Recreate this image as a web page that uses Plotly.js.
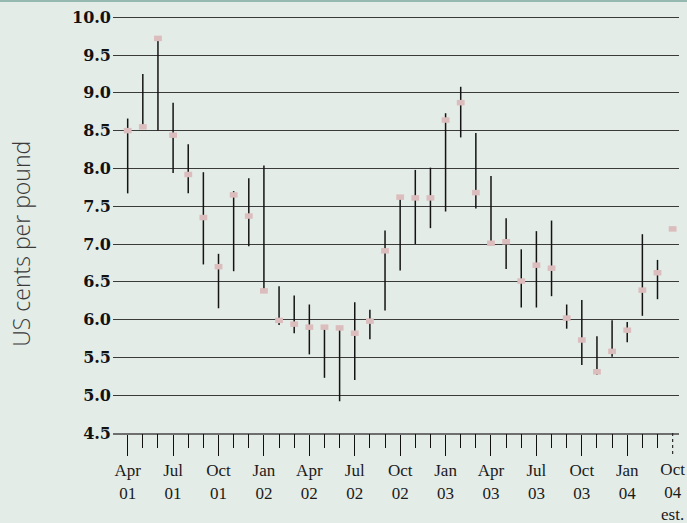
<!DOCTYPE html>
<html>
<head>
<meta charset="utf-8">
<script src="https://cdn.plot.ly/plotly-3.0.1.min.js"></script>
<style>
  html, body { margin: 0; padding: 0; background: #e4ece7; }
  #chart { width: 687px; height: 523px; }
</style>
</head>
<body>
<div id="chart"></div>
<script>
// Months (Apr 01 .. Mar 04, then Oct 04 estimate)
const months = ['Apr 01','May 01','Jun 01','Jul 01','Aug 01','Sep 01','Oct 01','Nov 01','Dec 01',
  'Jan 02','Feb 02','Mar 02','Apr 02','May 02','Jun 02','Jul 02','Aug 02','Sep 02','Oct 02','Nov 02','Dec 02',
  'Jan 03','Feb 03','Mar 03','Apr 03','May 03','Jun 03','Jul 03','Aug 03','Sep 03','Oct 03','Nov 03','Dec 03',
  'Jan 04','Feb 04','Mar 04','Oct 04 est.'];
// Monthly high, average and low (US cents per pound)
const highs = [8.66,9.25,9.72,8.87,8.32,7.95,6.87,7.70,7.87,
  8.04,6.44,6.32,6.20,5.90,5.89,6.23,6.13,7.18,7.62,7.98,8.01,
  8.73,9.08,8.47,7.90,7.34,6.93,7.17,7.31,6.20,6.26,5.78,5.99,
  5.97,7.13,6.79,null];
const avgs = [8.50,8.55,9.72,8.44,7.92,7.35,6.70,7.65,7.37,
  6.38,5.99,5.94,5.90,5.90,5.89,5.82,5.98,6.91,7.62,7.61,7.61,
  8.64,8.87,7.68,7.01,7.03,6.51,6.72,6.68,6.02,5.73,5.31,5.58,
  5.86,6.39,6.62,7.20];
const lows = [7.67,8.52,8.50,7.94,7.67,6.73,6.15,6.64,6.97,
  6.38,5.93,5.82,5.54,5.23,4.92,5.20,5.74,6.12,6.65,7.00,7.21,
  7.43,8.41,7.47,7.01,6.67,6.16,6.16,6.31,5.88,5.40,5.27,5.51,
  5.70,6.05,6.27,null];
// Axis labels
const majorTickIdx = [0,3,6,9,12,15,18,21,24,27,30,33];
const majorTickText = ['Apr<br>01','Jul<br>01','Oct<br>01','Jan<br>02','Apr<br>02','Jul<br>02',
  'Oct<br>02','Jan<br>03','Apr<br>03','Jul<br>03','Oct<br>03','Jan<br>04'];
const estIdx = 36;
const estText = 'Oct<br>04<br>est.';
const yTicks = [4.5,5.0,5.5,6.0,6.5,7.0,7.5,8.0,8.5,9.0,9.5,10.0];

const xs = months.map((_, i) => i);
const minorIdx = xs.filter(i => i < estIdx && majorTickIdx.indexOf(i) < 0);
const errPlus = avgs.map((a, i) => highs[i] == null ? 0 : highs[i] - a);
const errMinus = avgs.map((a, i) => lows[i] == null ? 0 : a - lows[i]);

const BG = '#e4ece7';
const PH = 420, PW = 566, ML = 113, MT = 13;
const XR = [-0.97, 36.42];
const tickFont = { family: 'Liberation Serif, Times New Roman, serif', size: 17, color: '#1a1a1a' };

const trace = {
  type: 'scatter', mode: 'markers', x: xs, y: avgs, text: months,
  hovertemplate: '%{text}: %{y:.2f}<extra></extra>',
  marker: { symbol: 'line-ew', size: 5.6, color: '#dcbdbd', line: { color: '#dcbdbd', width: 5.5 } },
  error_y: { type: 'data', symmetric: false, array: errPlus, arrayminus: errMinus,
             color: '#141414', thickness: 1.5, width: 0 },
  showlegend: false
};
const dummy2 = { type: 'scatter', mode: 'markers', x: [estIdx], y: [7], xaxis: 'x2',
  marker: { opacity: 0 }, hoverinfo: 'skip', showlegend: false };
const dummy3 = { type: 'scatter', mode: 'markers', x: [estIdx], y: [7], xaxis: 'x3',
  marker: { opacity: 0 }, hoverinfo: 'skip', showlegend: false };

const layout = {
  width: 687, height: 523,
  margin: { l: ML, r: 8, t: MT, b: 90, pad: 0 },
  paper_bgcolor: BG, plot_bgcolor: BG,
  showlegend: false,
  xaxis: {
    range: XR, showgrid: false, zeroline: false,
    showline: true, linecolor: '#6e6e6e', linewidth: 2,
    tickmode: 'array', tickvals: majorTickIdx, ticktext: majorTickText,
    ticks: 'outside', ticklen: 21, tickwidth: 1, tickcolor: '#111111',
    tickfont: tickFont, fixedrange: true
  },
  xaxis2: {
    overlaying: 'x', anchor: 'y', side: 'bottom',
    range: XR, showgrid: false, zeroline: false, showline: false,
    tickmode: 'array', tickvals: [estIdx], ticktext: [estText],
    ticks: 'outside', ticklen: 21, tickcolor: 'rgba(0,0,0,0)',
    tickfont: tickFont, fixedrange: true
  },
  xaxis3: {
    overlaying: 'x', anchor: 'y', side: 'bottom',
    range: XR, showgrid: false, zeroline: false, showline: false,
    tickmode: 'array', tickvals: minorIdx, showticklabels: false,
    ticks: 'outside', ticklen: 14, tickwidth: 1, tickcolor: '#111111',
    fixedrange: true
  },
  yaxis: {
    range: [4.5, 10.056], tickmode: 'array', tickvals: yTicks,
    ticktext: yTicks.map(v => v.toFixed(1)),
    showgrid: true, gridcolor: '#3a3a3a', gridwidth: 1,
    zeroline: false, showline: false, ticks: '',
    tickfont: { family: 'DejaVu Serif, serif', size: 16, color: '#111111', weight: 'bold' },
    ticklabelstandoff: 1,
    fixedrange: true
  },
  shapes: [
    { type: 'line', xref: 'x', yref: 'paper', x0: estIdx, x1: estIdx, y0: 0, y1: -21 / PH,
      line: { color: '#2a2a2a', width: 1.2, dash: 'dot' } },
    { type: 'rect', xref: 'paper', yref: 'paper', x0: -ML / PW, x1: 1 + 8 / PW,
      y0: 1 + (MT - 2) / PH, y1: 1 + MT / PH, line: { width: 0 }, fillcolor: '#95b8b0' }
  ],
  annotations: [
    { text: 'US cents per pound', xref: 'paper', yref: 'paper',
      x: (21 - ML) / PW, y: (433 - 243.7) / PH, xanchor: 'center', yanchor: 'middle',
      textangle: -90, showarrow: false,
      font: { family: 'Open Sans, Liberation Sans, sans-serif', size: 23, color: '#3a3a3a', weight: 300 } }
  ]
};

Plotly.newPlot('chart', [trace, dummy2, dummy3], layout, { displayModeBar: false, staticPlot: true });
</script>
</body>
</html>
